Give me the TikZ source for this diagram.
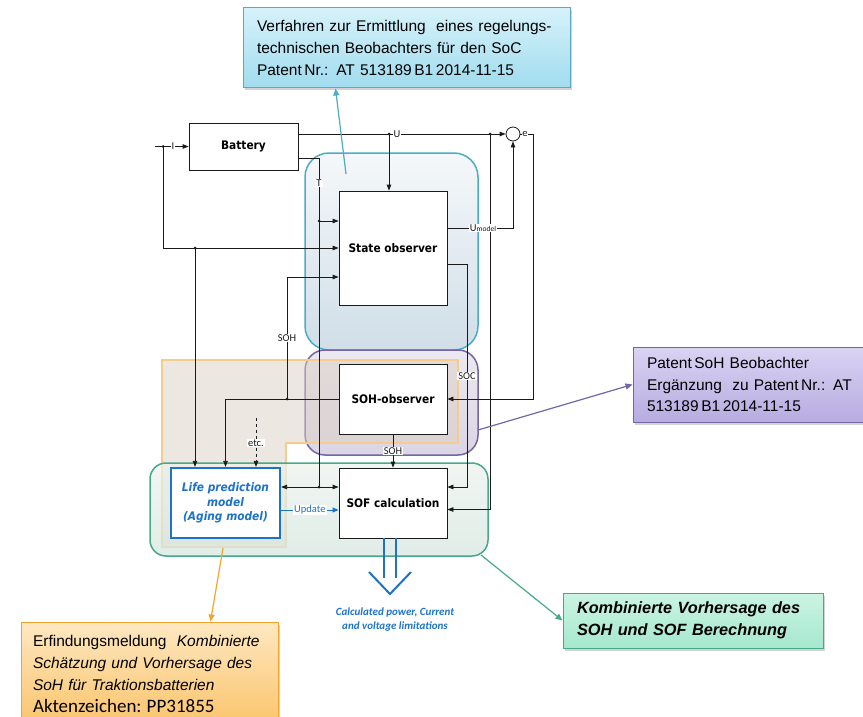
\documentclass[tikz,border=0pt]{standalone}
\usepackage{fontspec}
\setmainfont{Liberation Sans}
\newfontfamily\boxfont{DejaVu Sans Condensed}
\newfontfamily\lblfont{Carlito}
\usetikzlibrary{arrows.meta,shadows,calc}

\definecolor{ink}{HTML}{1A1A1A}
\definecolor{tealb}{HTML}{4BACC6}
\definecolor{purb}{HTML}{7464A8}
\definecolor{orab}{HTML}{F6CC8C}
\definecolor{orafill}{HTML}{DCD0C4}
\definecolor{grnb}{HTML}{47A98A}
\definecolor{lblue}{HTML}{1E73C8}
% region shadings
\definecolor{bluetop}{HTML}{F5F8FA}
\definecolor{bluebot}{HTML}{D0DEE8}
\definecolor{purtop}{HTML}{ECE9F1}
\definecolor{purbot}{HTML}{DAD4E4}
\definecolor{grntop}{HTML}{EBF2EE}
\definecolor{grnbot}{HTML}{D3E5DD}
% note colours
\definecolor{cyanline}{HTML}{5AA8C4}
\definecolor{cyantop}{HTML}{D6F2FA}
\definecolor{cyanbot}{HTML}{A0DCEE}
\definecolor{lavtop}{HTML}{DAD3F3}
\definecolor{lavbot}{HTML}{B7ACE0}
\definecolor{orline}{HTML}{F4A42E}
\definecolor{ortop}{HTML}{FEE8C2}
\definecolor{orbot}{HTML}{FBC46A}
\definecolor{minttop}{HTML}{CBF4E3}
\definecolor{mintbot}{HTML}{A6E8CF}

\tikzset{
  arr/.style={draw=ink, line width=0.8pt, -{Triangle[length=6pt,width=4.5pt]}},
  wire/.style={draw=ink, line width=0.8pt},
  jdot/.style={circle, fill=ink, inner sep=0pt, minimum size=3pt},
  blk/.style={draw=ink, fill=white, line width=0.8pt, font=\boxfont\bfseries\fontsize{11.8}{13}\selectfont},
  lbl/.style={fill=white, inner sep=1pt, font=\lblfont\fontsize{10.5}{12}\selectfont, text=ink},
  callout/.style={line width=1pt, align=left, inner xsep=0pt, inner ysep=0pt,
    font=\fontsize{15.5}{21.7}\selectfont, text=black,
    drop shadow={opacity=0.35, shadow xshift=1.5pt, shadow yshift=-2.5pt}},
  notearr/.style={line width=1.2pt, -{Triangle[length=7pt,width=6pt]}},
}

\begin{document}
\begin{tikzpicture}[x=1pt,y=-1pt]
\useasboundingbox (0,0) rectangle (863,717);

% ---- grouping regions ----
\draw[tealb, line width=1.5pt, rounded corners=24pt, top color=bluetop, bottom color=bluebot]
  (305,153) rectangle (478,350);
\draw[purb, line width=1.5pt, rounded corners=20pt, top color=purtop, bottom color=purbot]
  (305,350) rectangle (478,455);
\draw[orab, line width=2.5pt, fill=orafill, fill opacity=0.5]
  (162,360) -- (458,360) -- (458,443) -- (286,443) -- (286,547) -- (162,547) -- cycle;
\draw[grnb, line width=1.5pt, rounded corners=16pt, top color=grntop, bottom color=grnbot, fill opacity=0.7]
  (150,463) rectangle (488,556);

% ---- blocks ----
\node[blk, minimum width=109, minimum height=47] (battery) at (243.5,146.5) {Battery};
\node[blk, minimum width=108, minimum height=114] (stateobs) at (393,248) {State observer};
\node[blk, minimum width=108, minimum height=70] (sohobs) at (393,399) {SOH-observer};
\node[blk, minimum width=108, minimum height=70] (sof) at (393,503) {SOF calculation};
\node[blk, draw=lblue, line width=2.2pt, text=lblue, align=center, minimum width=109, minimum height=70,
      font=\boxfont\bfseries\itshape\fontsize{11.8}{14.5}\selectfont] (life) at (225.5,503)
      {Life prediction\\model\\(Aging model)};
\node[draw=ink, fill=white, circle, line width=0.8pt, minimum size=14, inner sep=0pt] (sum) at (513,134) {};

% ---- junction points ----
\coordinate (iin) at (155,146.5);
\coordinate (jI) at (163,146.5);
\coordinate (jI2) at (195,248);
\coordinate (jU) at (389,134);
\coordinate (jU2) at (490,134);
\coordinate (bT) at ([yshift=-11.5pt]battery.east);
\coordinate (jT1) at (319,221);
\coordinate (jT2) at (319,487);
\coordinate (jS) at (287,399);
\coordinate (eR) at (533,134);
\coordinate (socR) at (467,487);
\coordinate (etc) at (256,418);

% current input
\draw[arr] (iin) -- (battery.west);
\node[lbl, inner sep=0.5pt] (ilbl) at (173,146.5) {I};
\draw[arr] (jI) |- (stateobs.west);
\draw[arr] (jI2) -- (jI2 |- life.north);
\node[jdot] at (jI) {};
\node[jdot] at (jI2) {};

% voltage
\draw[arr] (battery.east |- sum) -- (sum.west);
\draw[arr] (jU) -- (jU |- stateobs.north);
\draw[arr] (jU2) |- ($(sof.east)+(0,6.5)$);
\node[jdot] at (jU) {};
\node[jdot] at (jU2) {};
\node[lbl] (ulbl) at (397,134) {U};

% temperature
\draw[wire] (bT) -| (jT2);
\draw[arr] (jT1) -- (jT1 -| stateobs.west);
\draw[arr] (jT2) -- (jT2 -| sof.west);
\draw[arr] (jT2) -- (jT2 -| life.east);
\node[jdot] at (jT1) {};
\node[jdot] at (jT2) {};
\node[lbl] (tlbl) at (319,183) {T};

% SOH feedback
\draw[arr] (sohobs.west) -| (life.north);
\draw[arr] (jS) |- ($(stateobs.west)+(0,29)$);
\node[jdot] at (jS) {};
\node[lbl] (sohlbl) at (287,338) {SOH};
\draw[arr] (sohobs.south) -- node[lbl] (soh2lbl) {SOH} (sof.north);

% further inputs
\draw[arr, dashed] (etc) -- (etc |- life.north);
\node[lbl] (etclbl) at (256,443) {etc.};

% model voltage and error
\draw[arr] ($(stateobs.east)+(0,-20)$) -| (sum.south);
\node[lbl] (umlbl) at (483,228) {U{\fontsize{7.5}{8}\selectfont model}};
\draw[arr] (sum.east) -- (eR) |- (sohobs.east);
\node[lbl, inner sep=0.5pt] (elbl) at (525,134) {e};

% SOC to SOF
\draw[arr] ($(stateobs.east)+(0,16)$) -| (socR) -- (socR -| sof.east);
\node[lbl] (soclbl) at (467,376) {SOC};

% update
\draw[draw=lblue, line width=1pt, -{Triangle[length=6pt,width=5pt]}] ($(life.east)+(0,7)$) --
  node[lbl, text=lblue] (updlbl) {Update} ($(sof.west)+(0,7)$);

% output arrow
\draw[lblue, line width=2pt] ($(sof.south)+(-9,0)$) -- ++(0,40);
\draw[lblue, line width=2pt] ($(sof.south)+(3,0)$) -- ++(0,40);
\draw[lblue, line width=2pt] (369,572) -- (390,594) -- (411,572);
\node[align=center, text=lblue, font=\lblfont\bfseries\itshape\fontsize{11}{14}\selectfont] (outlbl) at (395,620)
  {Calculated power, Current\\and voltage limitations};

% ---- notes ----
\node[callout, draw=cyanline, top color=cyantop, bottom color=cyanbot,
      minimum width=327, minimum height=80, text width=299] (note1) at (406.5,48)
  {Verfahren zur Ermittlung\ \ eines regelungs-\\technischen Beobachters für den SoC\\Patent\,Nr.: AT 513189\,B1\,2014-11-15};
\node[callout, draw=purb, top color=lavtop, bottom color=lavbot,
      minimum width=240, minimum height=75, text width=212] (note2) at (753,384.5)
  {Patent\,SoH Beobachter\\Ergänzung\ \ zu Patent\,Nr.: AT\\513189\,B1\,2014-11-15};
\node[callout, draw=orline, top color=ortop, bottom color=orbot,
      minimum width=257, minimum height=104, text width=233] (note3) at (149.5,674)
  {Erfindungsmeldung\ \ \textit{Kombinierte}\\\textit{Schätzung und Vorhersage des}\\\textit{SoH für Traktionsbatterien}\\{\lblfont\fontsize{19}{21.7}\selectfont Aktenzeichen:\ PP31855}};
\node[callout, draw=grnb, top color=minttop, bottom color=mintbot,
      minimum width=260, minimum height=55, text width=232, font=\bfseries\itshape\fontsize{16.3}{21.7}\selectfont] (note4) at (693,620.5)
  {Kombinierte Vorhersage des\\SOH und SOF Berechnung};

% note pointers
\draw[notearr, tealb] (346,174) -- ($(note1.south west)+(93,0)$);
\draw[notearr, purb] (478,430) -- (note2.west);
\draw[notearr, orline] (223,548) -- ($(note3.north west)+(190,0)$);
\draw[notearr, grnb] (481,555) -- (note4.west);
\end{tikzpicture}
\end{document}
